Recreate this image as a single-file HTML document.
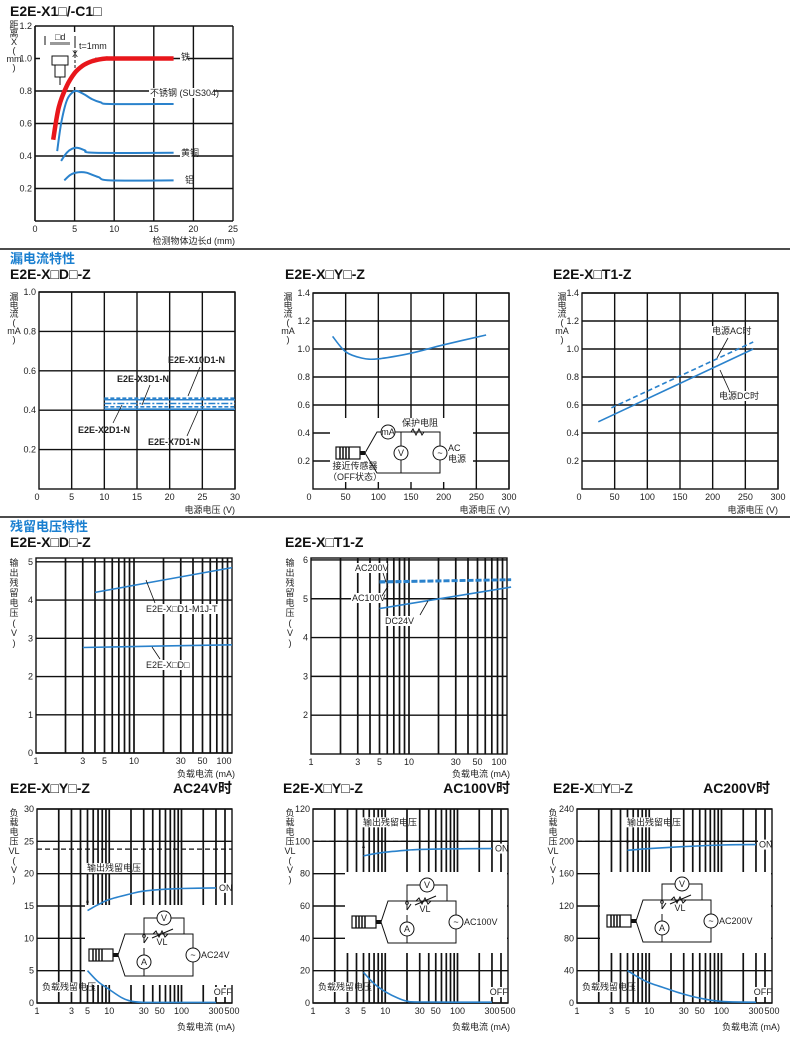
<!DOCTYPE html>
<html><head><meta charset="utf-8">
<style>
html,body{margin:0;padding:0;background:#fff;}
svg{display:block;font-family:"Liberation Sans","Noto Sans CJK SC",sans-serif;}
.t{font-size:9px;fill:#222;}
.h{font-size:14px;font-weight:bold;fill:#111;}
.sec{font-size:13px;font-weight:bold;fill:#1a7fd0;}
</style></head>
<body>
<svg id="chart" width="790" height="1041" viewBox="0 0 790 1041" xmlns="http://www.w3.org/2000/svg"></svg>
<script>
// ---- chart 1: detection distance vs object size
const c1XTicks=[0,5,10,15,20,25];
const c1YTicks=[0.2,0.4,0.6,0.8,1.0,1.2];
const c1IronX=[2.3,3,4,5,6,7,8,9,10,17.5];
const c1IronY=[0.5,0.7,0.83,0.91,0.955,0.98,0.993,1.0,1.0,1.0];
const c1SusX=[2.8,3.3,4,4.7,5.3,6.2,7.2,8.3,9.5,17.5];
const c1SusY=[0.43,0.6,0.74,0.79,0.8,0.78,0.75,0.73,0.72,0.72];
const c1BrassX=[3.3,4,4.7,5.4,6.3,7.5,17.5];
const c1BrassY=[0.37,0.42,0.445,0.45,0.435,0.42,0.42];
const c1AlX=[3.7,4.5,5.5,6.5,8,9.5,17.5];
const c1AlY=[0.25,0.285,0.3,0.297,0.27,0.25,0.25];
// ---- chart 2: leakage current D type
const c2XTicks=[0,5,10,15,20,25,30];
const c2YTicks=[0.2,0.4,0.6,0.8,1.0];
const c2LineX=[10,30];
const c2Levels=[0.461,0.453,0.434,0.417,0.405];
// ---- chart 3: leakage current Y type
const c3XTicks=[0,50,100,150,200,250,300];
const c3YTicks=[0.2,0.4,0.6,0.8,1.0,1.2,1.4];
const c3X=[30,50,75,100,150,200,265];
const c3Y=[1.09,0.98,0.935,0.93,0.97,1.03,1.1];
// ---- chart 4: leakage current T1 type
const c4DcX=[25,262];
const c4DcY=[0.48,1.0];
const c4AcX=[45,262];
const c4AcY=[0.58,1.05];
// ---- chart 5: residual voltage D type
const c5XLabels=[1,3,5,10,30,50,100];
const c5YTicks=[0,1,2,3,4,5];
const c5M1jX=[4,100];
const c5M1jY=[4.2,4.85];
const c5DX=[3,100];
const c5DY=[2.76,2.83];
// ---- chart 6: residual voltage T1
const c6YTicks=[2,3,4,5,6];
const c6Ac200X=[5,110]; const c6Ac200Y=[5.45,5.5];
const c6Ac100X=[5,110]; const c6Ac100Y=[5.42,5.48];
const c6Dc24X=[5,110];  const c6Dc24Y=[4.75,5.3];
// ---- charts 7-9: load voltage Y type
const c7XLabels=[1,3,5,10,30,50,100,300,500];
const c7YTicks=[0,5,10,15,20,25,30];
const c7Supply=23.8;
const c7OnX=[5,7,10,20,30,60,100,300];
const c7OnY=[14.3,15.2,16,16.9,17.3,17.6,17.7,17.8];
const c7OffX=[5,7,10,15,20,30,100,300];
const c7OffY=[5,3.3,2.1,0.8,0.3,0.1,0.1,0.1];
const c8YTicks=[0,20,40,60,80,100,120];
const c8Supply=100;
const c8OnX=[5,7,10,20,30,100,300];
const c8OnY=[91,92.3,93.3,94.5,95,95.4,95.5];
const c8OffX=[5,7,10,15,20,30,300];
const c8OffY=[19,12,7,3,1.2,0.6,0.5];
const c9YTicks=[0,40,80,120,160,200,240];
const c9Supply=200;
const c9OnX=[5,10,30,100,300];
const c9OnY=[189,191,193.5,195.5,196];
const c9OffX=[5,7,10,20,30,50,100,300];
const c9OffY=[40,32,25,16,11,6,2,1];

const NS='http://www.w3.org/2000/svg';
const svg=document.getElementById('chart');
function mk(tag,attrs,parent){const e=document.createElementNS(NS,tag);for(const k in attrs)e.setAttribute(k,attrs[k]);(parent||svg).appendChild(e);return e;}
function txt(x,y,s,cls,anchor,extra){const e=mk('text',Object.assign({x:x,y:y,class:cls||'t','text-anchor':anchor||'start'},extra||{}));e.textContent=s;return e;}
const BLUE='#2a82cc';
function scales(f){
  const sx=f.log?(v=>f.x0+(Math.log10(v)-Math.log10(f.xmin))/(Math.log10(f.xmax)-Math.log10(f.xmin))*(f.x1-f.x0))
                :(v=>f.x0+(v-f.xmin)/(f.xmax-f.xmin)*(f.x1-f.x0));
  const sy=v=>f.yb+(v-f.ymin)/(f.ymax-f.ymin)*(f.yt-f.yb);
  return {sx,sy};
}
function smooth(pts){
  let d='M'+pts[0][0].toFixed(1)+','+pts[0][1].toFixed(1);
  for(let i=0;i<pts.length-1;i++){
    const p0=pts[i-1]||pts[i],p1=pts[i],p2=pts[i+1],p3=pts[i+2]||p2;
    const c1=[p1[0]+(p2[0]-p0[0])/6,p1[1]+(p2[1]-p0[1])/6];
    const c2=[p2[0]-(p3[0]-p1[0])/6,p2[1]-(p3[1]-p1[1])/6];
    d+=' C'+c1.map(v=>v.toFixed(1))+' '+c2.map(v=>v.toFixed(1))+' '+p2[0].toFixed(1)+','+p2[1].toFixed(1);
  }
  return d;
}
function series(s,xs,ys,stroke,w,dash){
  const pts=xs.map((x,i)=>[s.sx(x),s.sy(ys[i])]);
  const a={d:smooth(pts),fill:'none',stroke:stroke,'stroke-width':w};
  if(dash)a['stroke-dasharray']=dash;
  return mk('path',a);
}
function vlabel(x,y,chars,step){chars.forEach((c,i)=>{const e=txt(x,y+i*step,c,'t','middle');});}
function line(x1,y1,x2,y2,w,col,dash){const a={x1:x1,y1:y1,x2:x2,y2:y2,stroke:col||'#111','stroke-width':w||1};if(dash)a['stroke-dasharray']=dash;return mk('line',a);}
function linGrid(f,s,xt,yt){
  xt.forEach(v=>{const l=line(s.sx(v),f.yt,s.sx(v),f.yb,1.4);
    const t=txt(s.sx(v),f.yb+11,String(v),'t','middle');});
  yt.forEach(v=>{const l=line(f.x0,s.sy(v),f.x1,s.sy(v),1.4);
    const t=txt(f.x0-3,s.sy(v)+3,v.toFixed(1),'t','end');});
  const r=mk('rect',{x:f.x0,y:f.yt,width:f.x1-f.x0,height:f.yb-f.yt,fill:'none',stroke:'#111','stroke-width':1.4});
  
}
function logGrid(f,s,maxv,labels,yt,shift){
  for(let d=1;d<=maxv;d*=10){for(let k=1;k<10;k++){const v=d*k;if(v<=f.xmin||v>=maxv)continue;
    const l=line(s.sx(v),f.yt,s.sx(v),f.yb,1.7);}}
  labels.forEach((v,i)=>{let x=s.sx(v);if(i===labels.length-1)x-=shift;const t=txt(x,f.yb+11,String(v),'t','middle');});
  yt.forEach(v=>{const l=line(f.x0,s.sy(v),f.x1,s.sy(v),1.4);
    const t=txt(f.x0-3,s.sy(v)+3,String(v),'t','end');});
  const r=mk('rect',{x:f.x0,y:f.yt,width:f.x1-f.x0,height:f.yb-f.yt,fill:'none',stroke:'#111','stroke-width':1.4});
  
}
function whiteBox(x,y,w,h){const r=mk('rect',{x:x,y:y,width:w,height:h,fill:'#fff'});return r;}
function label(x,y,s,anchor,name){whiteBox(anchor==='end'?x-s.length*5.2-1:x-1,y-8,s.length*5.2+2,10);const t=txt(x,y,s,'t',anchor);return t;}
function meter(cx,cy,s){mk('circle',{cx:cx,cy:cy,r:7,fill:'#fff',stroke:'#111','stroke-width':1});const t=txt(cx,cy+3,s,'t','middle',{'font-size':s.length>1?'7px':'9px'});}
function sensor(x,y){mk('rect',{x:x,y:y-6,width:24,height:12,fill:'#fff',stroke:'#111','stroke-width':1.2});for(let i=0;i<4;i++)line(x+4+i*3,y-6,x+4+i*3,y+6,1.5);mk('rect',{x:x+24,y:y-2,width:5,height:4,fill:'#111'});}
function loadCircuit(x,y,acLabel){
  const g=mk('g',{});
  sensor(x,y);
  const L=x+36,R=x+104,T=y-21,B=y+21,S=x+55;
  const pts=[[x+29,y],[L,T],[R,T],[R,B],[L,B],[x+29,y]];
  mk('polyline',{points:pts.map(p=>p.join(',')).join(' '),fill:'none',stroke:'#111','stroke-width':1});
  line(S,T,S,T+9,1);line(S,T+9,S+4,T+3,1);line(S,T+14,S,y+0,1);
  mk('circle',{cx:S,cy:T+2,r:1.3,fill:'#fff',stroke:'#111'});
  meter(S,y+7,'A');line(S,y+14,S,B,1);
  mk('polyline',{points:[S,T,S,T-16,x+95,T-16,x+95,T].join(' '),fill:'none',stroke:'#111','stroke-width':1});
  meter(x+75,T-16,'V');
  mk('path',{d:`M${x+64},${T} l3,-3 l3,6 l3,-6 l3,6 l3,-3`,fill:'none',stroke:'#111','stroke-width':1});
  line(x+63,T+4,x+84,T-5,1);
  txt(x+73,T+11,'VL','t','middle');
  meter(R,y,'~');
  txt(R+8,y+3,acLabel,'t','start');
}

// ================= headings =================
let e;
e=txt(10,16,'E2E-X1□/-C1□','h');
e=line(0,249,790,249,1.5);
e=txt(10,263,'漏电流特性','sec');
e=txt(10,279,'E2E-X□D□-Z','h');
e=txt(285,279,'E2E-X□Y□-Z','h');
e=txt(553,279,'E2E-X□T1-Z','h');
e=line(0,517,790,517,1.5);
e=txt(10,531,'残留电压特性','sec');
e=txt(10,547,'E2E-X□D□-Z','h');
e=txt(285,547,'E2E-X□T1-Z','h');
[[10,'AC24V时',232],[283,'AC100V时',510],[553,'AC200V时',770]].forEach(a=>{
  e=txt(a[0],793,'E2E-X□Y□-Z','h');
  e=txt(a[2],793,a[1],'h','end');
});

// ================= chart 1 =================
{const f={x0:35,x1:233,yb:221,yt:26,xmin:0,xmax:25,ymin:0,ymax:1.2};const s=scales(f);
 c1XTicks.forEach(v=>{const l=line(s.sx(v),f.yt,s.sx(v),f.yb,1.4);
   const t=txt(s.sx(v),f.yb+11,String(v),'t','middle');});
 c1YTicks.forEach(v=>{const l=line(f.x0,s.sy(v),f.x1,s.sy(v),1.4);
   const t=txt(f.x0-3,s.sy(v)+3,v.toFixed(1),'t','end');});
 line(f.x0,f.yt,f.x0,f.yb,1.4);line(f.x0,f.yb,f.x1,f.yb,1.4);
 whiteBox(40,32,55,55);
 const ins=mk('g',{});
 mk('rect',{x:50,y:42,width:20,height:3,fill:'#999'},ins);
 txt(55,40,'□d','t','start',{'font-size':'9px'});
 line(45,36,45,45,1);line(75,36,75,45,1);line(75,45,75,70,1,'#111','3,2');
 txt(72,57,'X','t','start',{'font-size':'8px'});txt(79,49,'t=1mm','t','start',{'font-size':'10px'});
 mk('rect',{x:52,y:56,width:16,height:9,fill:'#fff',stroke:'#111'},ins);
 mk('rect',{x:55,y:65,width:10,height:12,fill:'#fff',stroke:'#111'},ins);
 line(60,77,60,85,1);
 e=series(s,c1IronX,c1IronY,'#e8161b',4.5);
 e=series(s,c1SusX,c1SusY,BLUE,2);
 e=series(s,c1BrassX,c1BrassY,BLUE,2);
 e=series(s,c1AlX,c1AlY,BLUE,2);
 label(181,60,'铁','start','label-iron');
 label(150,96,'不锈钢 (SUS304)','start','label-stainless');
 label(181,156,'黄铜','start','label-brass');
 label(185,183,'铝','start','label-aluminum');
 vlabel(14,28,['距','离','X','(','mm',')'],8.5);
 e=txt(235,244,'检测物体边长d (mm)','t','end');
}
// ================= chart 2 =================
{const f={x0:39,x1:235,yb:489,yt:292,xmin:0,xmax:30,ymin:0,ymax:1.0};const s=scales(f);
 linGrid(f,s,c2XTicks.slice(1),c2YTicks);
 e=txt(37,500,'0','t','middle');
 const dashes=['4,2',null,'7,2,2,2','4,2',null];
 const names=['series-x10d1-n','series-x3d1-n','series-x2d1-n','series-x7d1-n','series-x7d1-n-low'];
 c2Levels.forEach((v,i)=>{const l=line(s.sx(c2LineX[0]),s.sy(v),s.sx(c2LineX[1]),s.sy(v),1.6,BLUE,dashes[i]);});
 e=txt(168,363,'E2E-X10D1-N','t','start',{'font-weight':'bold','font-size':'8.5px'});
 e=txt(117,382,'E2E-X3D1-N','t','start',{'font-weight':'bold','font-size':'8.5px'});
 e=txt(78,433,'E2E-X2D1-N','t','start',{'font-weight':'bold','font-size':'8.5px'});
 e=txt(148,445,'E2E-X7D1-N','t','start',{'font-weight':'bold','font-size':'8.5px'});
 line(200,367,188,396,0.8);line(150,385,142,405,0.8);line(113,423,122,405,0.8);line(187,436,198,411,0.8);
 vlabel(14,300,['漏','电','流','(','mA',')'],8.5);
 e=txt(235,513,'电源电压 (V)','t','end');
}
// ================= chart 3 =================
{const f={x0:313,x1:509,yb:489,yt:293,xmin:0,xmax:300,ymin:0,ymax:1.4};const s=scales(f);
 linGrid(f,s,c3XTicks.slice(1),c3YTicks);
 e=txt(309,500,'0','t','middle');
 e=series(s,c3X,c3Y,BLUE,1.6);
 whiteBox(330,418,143,64);
 const g=mk('g',{});
 sensor(336,453);
 mk('polyline',{points:'365,453 377,432 381,432',fill:'none',stroke:'#111'});
 mk('polyline',{points:'365,453 377,473 440,473 440,432 395,432',fill:'none',stroke:'#111'});
 meter(388,432,'mA');line(401,432,401,473,1);meter(401,453,'V');meter(440,453,'~');
 mk('path',{d:'M411,432 l2,-3 l3,6 l3,-6 l3,6 l2,-3',fill:'none',stroke:'#111'});
 txt(420,426,'保护电阻','t','middle');txt(448,451,'AC','t','start');txt(448,462,'电源','t','start');
 txt(355,469,'接近传感器','t','middle');txt(355,480,'（OFF状态）','t','middle');
 vlabel(288,300,['漏','电','流','(','mA',')'],8.5);
 e=txt(510,513,'电源电压 (V)','t','end');
}
// ================= chart 4 =================
{const f={x0:582,x1:778,yb:489,yt:293,xmin:0,xmax:300,ymin:0,ymax:1.4};const s=scales(f);
 linGrid(f,s,c3XTicks.slice(1),c3YTicks);
 e=txt(579,500,'0','t','middle');
 e=series(s,c4DcX,c4DcY,BLUE,1.6);
 e=series(s,c4AcX,c4AcY,BLUE,1.6,'5,3');
 label(712,334,'电源AC时','start','label-ac');
 label(719,399,'电源DC时','start','label-dc');
 line(728,338,717,358,0.8);line(730,392,720,370,0.8);
 vlabel(562,300,['漏','电','流','(','mA',')'],8.5);
 e=txt(778,513,'电源电压 (V)','t','end');
}
// ================= chart 5 =================
{const f={x0:36,x1:232,yb:753,yt:558,xmin:1,xmax:100,ymin:0,ymax:5.1,log:true};const s=scales(f);
 logGrid(f,s,100,c5XLabels,c5YTicks,8);
 e=series(s,c5M1jX,c5M1jY,BLUE,1.6);
 e=series(s,c5DX,c5DY,BLUE,1.6);
 label(146,612,'E2E-X□D1-M1J-T','start','label-m1j-t');
 label(146,668,'E2E-X□D□','start','label-xd');
 line(155,603,146,580,0.8);line(160,659,152,647,0.8);
 vlabel(14,566,['输','出','残','留','电','压','(','V',')'],10);
 e=txt(235,777,'负载电流 (mA)','t','end');
}
// ================= chart 6 =================
{const f={x0:311,x1:507,yb:754,yt:558,xmin:1,xmax:100,ymin:1,ymax:6.05,log:true};const s=scales(f);
 logGrid(f,s,100,c5XLabels,c6YTicks,8);
 e=series(s,c6Ac200X,c6Ac200Y,BLUE,2,'6,2');
 e=series(s,c6Ac100X,c6Ac100Y,BLUE,2,'6,2');
 e=series(s,c6Dc24X,c6Dc24Y,BLUE,1.6);
 label(355,571,'AC200V','start','label-ac200v');
 label(352,601,'AC100V','start','label-ac100v');
 label(385,624,'DC24V','start','label-dc24v');
 line(383,573,386,582,0.8);line(382,596,388,586,0.8);line(420,615,428,601,0.8);
 vlabel(290,566,['输','出','残','留','电','压','(','V',')'],10);
 e=txt(510,777,'负载电流 (mA)','t','end');
}
// ================= charts 7-9 =================
function loadChart(x0,supply,yt,yticks,onX,onY,offX,offY,ac,sx0,sy0,box,nm){
  const f={x0:x0,x1:x0+195,yb:1003,yt:809,xmin:1,xmax:500,ymin:0,ymax:yticks[yticks.length-1],log:true};const s=scales(f);
  logGrid(f,s,500,c7XLabels,yticks,0);
  whiteBox(box[0],box[1],box[2],box[3]);
  loadCircuit(sx0,sy0,ac);
  let l=line(f.x0,s.sy(supply),f.x1,s.sy(supply),1.2,'#111','5,3');
  
  let p=series(s,onX,onY,BLUE,1.6);
  p=series(s,offX,offY,BLUE,1.6);
  label(s.sx(onX[onX.length-1])+3,s.sy(onY[onY.length-1])+3,'ON','start','label-on');
  label(s.sx(280),995,'OFF','start','label-off');
  label(x0+50,s.sy(supply)-(nm==='24v'?-22:16),'输出残留电压','start','label-output-residual');
  label(x0+5,990,'负载残留电压','start','label-load-residual');
  mk('polygon',{points:`${s.sx(5)},${s.sy(onY[0])-12} ${s.sx(5)-1.5},${s.sy(onY[0])-8} ${s.sx(5)+1.5},${s.sy(onY[0])-8}`,fill:'#111'});
  return s;
}
loadChart(37,c7Supply,809,c7YTicks,c7OnX,c7OnY,c7OffX,c7OffY,'AC24V',89,955,[85,905,148,80],'24v');
loadChart(313,c8Supply,809,c8YTicks,c8OnX,c8OnY,c8OffX,c8OffY,'AC100V',352,922,[345,872,162,81],'100v');
loadChart(577,c9Supply,809,c9YTicks,c9OnX,c9OnY,c9OffX,c9OffY,'AC200V',607,921,[600,872,171,81],'200v');
vlabel(14,816,['负','载','电','压','VL','(','V',')'],9.5);
vlabel(290,816,['负','载','电','压','VL','(','V',')'],9.5);
vlabel(553,816,['负','载','电','压','VL','(','V',')'],9.5);
[[235,1030],[510,1030],[780,1030]].forEach(a=>{e=txt(a[0],a[1],'负载电流 (mA)','t','end');});
</script>
</body></html>
